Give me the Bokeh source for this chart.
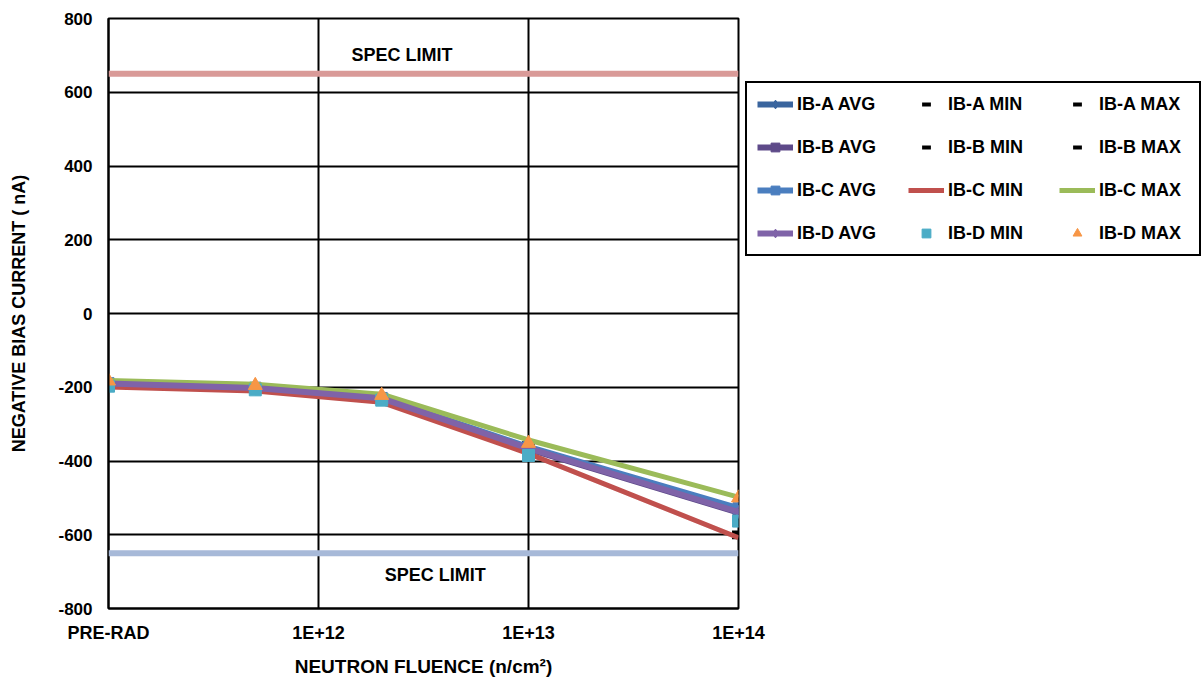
from bokeh.plotting import figure
from bokeh.models import (Legend, LegendItem, Span, Label, FixedTicker,
                          CustomJSTickFormatter, Range1d)
from bokeh.embed import file_html
from bokeh.resources import INLINE

# ---------------- data ----------------
fluence = [1e11, 5e11, 2e12, 1e13, 1e14]
x_tick_values = [1e11, 1e12, 1e13, 1e14]
x_tick_labels = ["PRE-RAD", "1E+12", "1E+13", "1E+14"]
y_ticks = [-800, -600, -400, -200, 0, 200, 400, 600, 800]

a_avg = [-190, -202, -230, -366, -535]
a_min = [-198, -208, -238, -382, -607]
a_max = [-183, -194, -222, -352, -529]
b_avg = [-191, -203, -231, -368, -540]
b_min = [-197, -207, -236, -378, -594]
b_max = [-184, -195, -223, -356, -531]
c_avg = [-189, -201, -229, -362, -528]
c_min = [-199, -210, -241, -380, -608]
c_max = [-182, -192, -219, -343, -498]
d_avg = [-190, -202, -230, -366, -538]
d_min = [-197, -207, -235, -385, -563]
d_max = [-183, -195, -222, -352, -500]

spec_upper = 650
spec_lower = -650

FONT = "Liberation Sans"

p = figure(frame_width=630, frame_height=590, x_axis_type="log",
           x_range=Range1d(1e11, 1e14), y_range=Range1d(-800, 800),
           output_backend="svg", toolbar_location=None,
           min_border_left=108, min_border_right=0,
           min_border_top=18, min_border_bottom=70,
           background_fill_color="white", border_fill_color="white")
p.outline_line_color = "black"
p.outline_line_width = 2

# grid
p.xgrid.ticker = FixedTicker(ticks=x_tick_values)
p.ygrid.ticker = FixedTicker(ticks=y_ticks)
for g in (p.xgrid, p.ygrid):
    g.grid_line_color = "black"
    g.grid_line_width = 2
    g.grid_line_alpha = 1.0

# axes
p.xaxis.ticker = FixedTicker(ticks=x_tick_values)
p.xaxis.formatter = CustomJSTickFormatter(args=dict(labels=x_tick_labels), code="""
    const i = Math.round(Math.log10(tick)) - 11;
    return labels[i];
""")
p.yaxis.ticker = FixedTicker(ticks=y_ticks)
p.yaxis.formatter = CustomJSTickFormatter(code="return String(Math.round(tick));")
for ax in (p.xaxis, p.yaxis):
    ax.major_tick_line_color = None
    ax.minor_tick_line_color = None
    ax.axis_line_color = "black"
    ax.axis_line_width = 2
    ax.major_label_text_font = FONT
    ax.major_label_text_font_style = "bold"
    ax.major_label_text_color = "black"
    ax.axis_label_text_font = FONT
    ax.axis_label_text_font_style = "bold"
    ax.axis_label_text_color = "black"
p.yaxis.major_label_text_font_size = "17px"
p.xaxis.major_label_text_font_size = "18px"
p.yaxis.axis_label_text_font_size = "18px"
p.xaxis.axis_label_text_font_size = "19px"
p.yaxis.major_label_standoff = 10
p.xaxis.major_label_standoff = 8
p.xaxis.axis_label = "NEUTRON FLUENCE (n/cm²)"
p.yaxis.axis_label = "NEGATIVE BIAS CURRENT ( nA)"
p.xaxis.axis_label_standoff = 10
p.yaxis.axis_label_standoff = 26

# spec limits
p.add_layout(Span(location=spec_upper, dimension="width", line_color="#D99A98", line_width=6))
p.add_layout(Span(location=spec_lower, dimension="width", line_color="#A7B9D8", line_width=6))
for (lx, ly) in [(2.5e12, 700), (3.6e12, -708)]:
    p.add_layout(Label(x=lx, y=ly, text="SPEC LIMIT", text_font=FONT, text_font_style="bold",
                       text_font_size="18px", text_align="center", text_baseline="middle",
                       text_color="black"))

items = {}

def avg_series(y, color, marker, label):
    r1 = p.line(fluence, y, line_color=color, line_width=6)
    r2 = p.scatter(fluence, y, marker=marker, size=11, fill_color=color, line_color=color)
    items[label] = LegendItem(label=label, renderers=[r1, r2])

def dash_series(y, label):
    r = p.scatter(fluence, y, marker="dash", size=13, line_color="black", line_width=4)
    items[label] = LegendItem(label=label, renderers=[r])

def line_series(y, color, label):
    r = p.line(fluence, y, line_color=color, line_width=5)
    items[label] = LegendItem(label=label, renderers=[r])

def marker_series(y, color, marker, size, label):
    r = p.scatter(fluence, y, marker=marker, size=size, fill_color=color, line_color=color)
    items[label] = LegendItem(label=label, renderers=[r])

avg_series(a_avg, "#3A659E", "diamond", "IB-A AVG")
dash_series(a_min, "IB-A MIN")
dash_series(a_max, "IB-A MAX")
avg_series(b_avg, "#5E4A89", "square", "IB-B AVG")
dash_series(b_min, "IB-B MIN")
dash_series(b_max, "IB-B MAX")
avg_series(c_avg, "#4A7EBF", "square", "IB-C AVG")
line_series(c_min, "#C0504D", "IB-C MIN")
line_series(c_max, "#9BBB59", "IB-C MAX")
avg_series(d_avg, "#7F63A8", "diamond", "IB-D AVG")
marker_series(d_min, "#4BACC6", "square", 12, "IB-D MIN")
marker_series(d_max, "#F79646", "triangle", 14, "IB-D MAX")

# legend is filled column by column
legend_order = [f"IB-{s} {k}" for k in ("AVG", "MIN", "MAX") for s in "ABCD"]

legend = Legend(items=[items[k] for k in legend_order], location=(7, 352), ncols=3,
                label_text_font=FONT, label_text_font_style="bold",
                label_text_font_size="18px", label_text_color="black",
                glyph_width=36, glyph_height=22, label_height=22, label_width=90,
                label_standoff=4, spacing=21, padding=10, margin=0,
                border_line_color="black", border_line_width=2, border_line_alpha=1.0,
                background_fill_color="white", background_fill_alpha=1.0)
p.add_layout(legend, "right")

open("out.html", "w").write(file_html(p, INLINE))
